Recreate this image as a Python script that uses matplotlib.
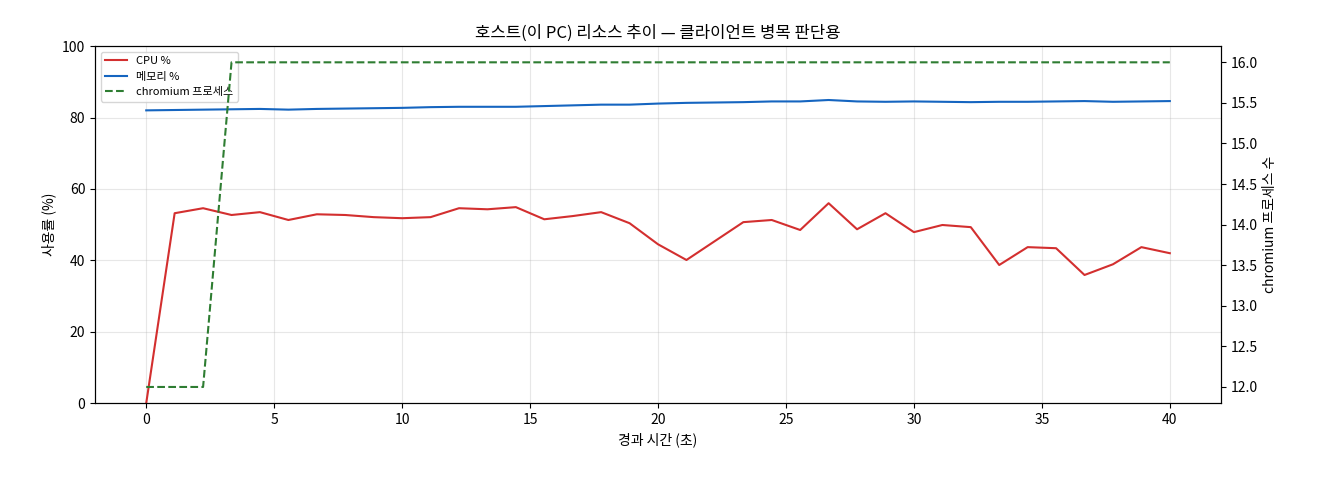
import matplotlib
matplotlib.use("Agg")
import matplotlib.pyplot as plt
import numpy as np

plt.rcParams['font.family'] = ['Noto Sans CJK KR', 'DejaVu Sans']
plt.rcParams['axes.unicode_minus'] = False

t = [i * 40 / 36 for i in range(37)]
cpu = [0, 53.2, 54.6, 52.7, 53.5, 51.3, 52.9, 52.7, 52.1, 51.8, 52.1, 54.6, 54.3, 54.9,
       51.5, 52.4, 53.5, 50.4, 44.5, 40.1, 45.4, 50.7, 51.3, 48.5, 56.0, 48.7, 53.2,
       47.9, 49.9, 49.3, 38.7, 43.7, 43.4, 35.9, 38.9, 43.7, 42.0]
mem = [82.0, 82.1, 82.2, 82.3, 82.4, 82.2, 82.4, 82.5, 82.6, 82.7, 82.9, 83.0, 83.0,
       83.0, 83.2, 83.4, 83.6, 83.6, 83.9, 84.1, 84.2, 84.3, 84.5, 84.5, 84.9, 84.5,
       84.4, 84.5, 84.4, 84.3, 84.4, 84.4, 84.5, 84.6, 84.4, 84.5, 84.6]
procs = [12, 12, 12] + [16] * 34

fig, ax = plt.subplots(figsize=(13.2, 4.8), dpi=100)
l1, = ax.plot(t, cpu, color='#d32f2f', lw=1.5, label='CPU %')
l2, = ax.plot(t, mem, color='#1565c0', lw=1.5, label='메모리 %')
ax.set_ylim(0, 100)
ax.set_xlabel('경과 시간 (초)')
ax.set_ylabel('사용률 (%)')
ax.grid(True, alpha=0.3)
ax2 = ax.twinx()
l3, = ax2.plot(t, procs, color='#2e7d32', lw=1.5, ls='--', label='chromium 프로세스')
ax2.set_ylabel('chromium 프로세스 수')
ax.set_title('호스트(이 PC) 리소스 추이 — 클라이언트 병목 판단용')
ax.legend(handles=[l1, l2, l3], loc='upper left', fontsize=8)
fig.subplots_adjust(left=0.072, right=0.925, top=0.904, bottom=0.16)
fig.savefig('out.png')
